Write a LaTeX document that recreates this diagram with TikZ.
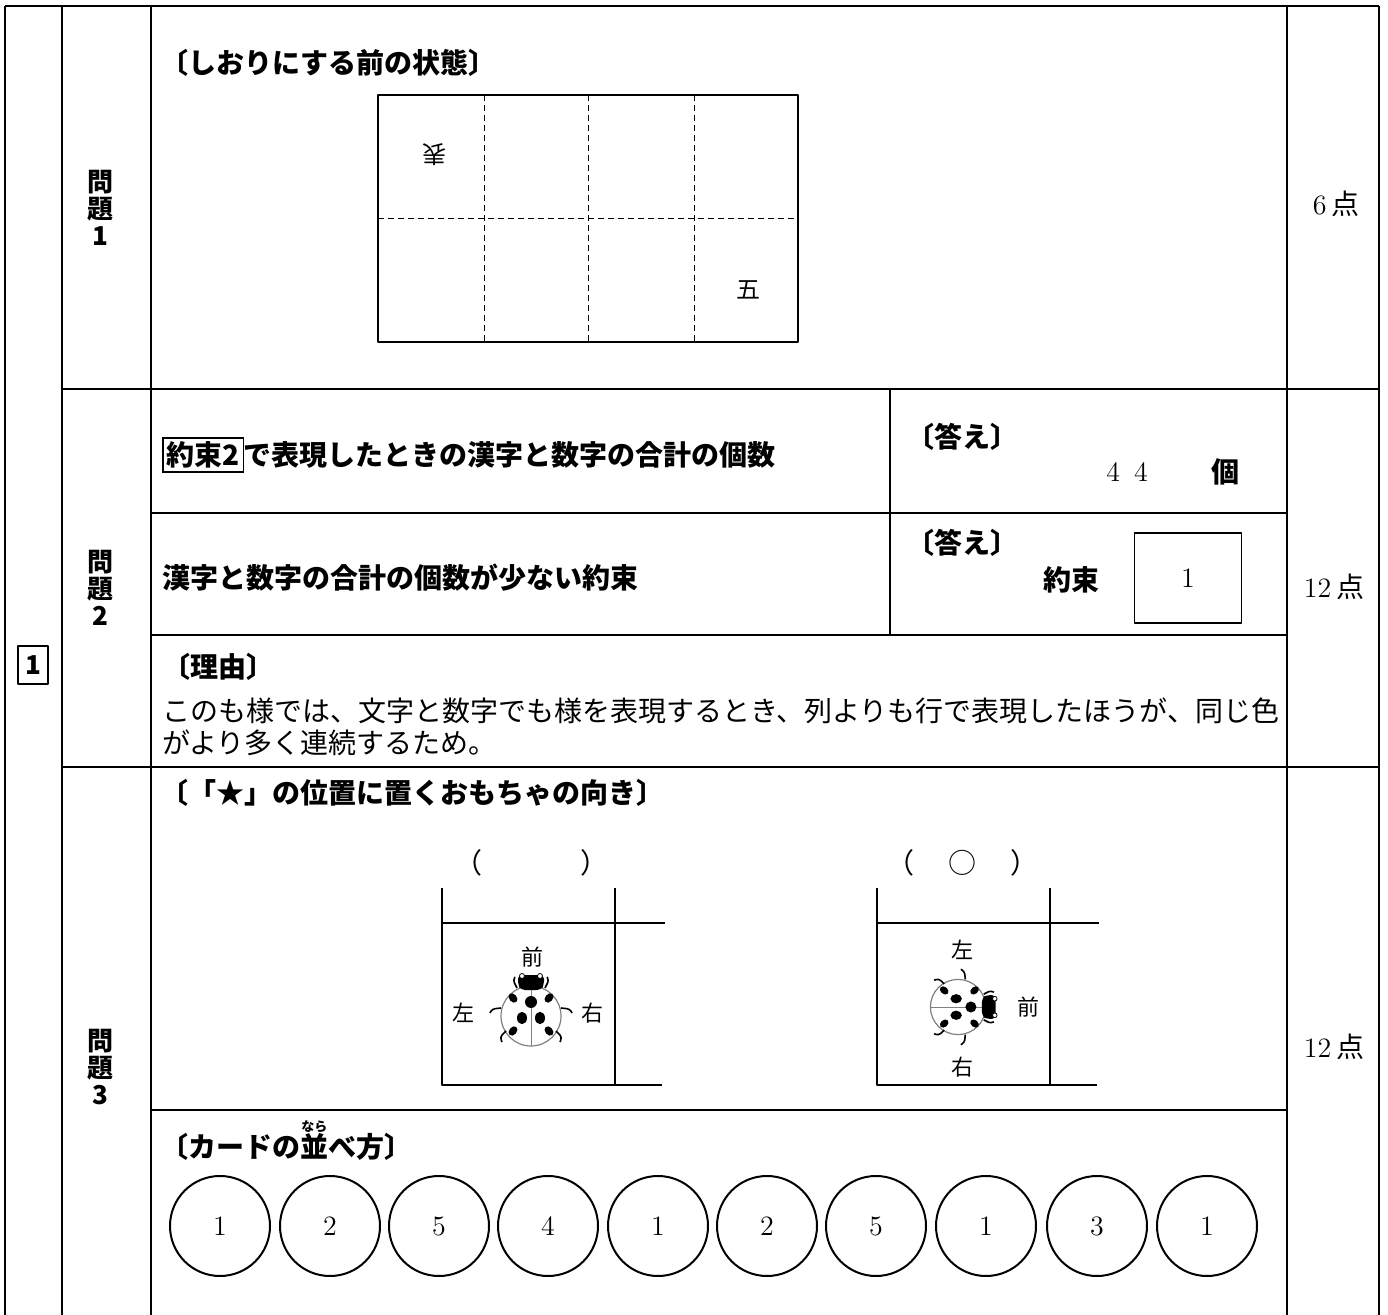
\documentclass[tikz,border=0pt]{standalone}
\usepackage{fontspec}
\newfontfamily\jp{Noto Sans CJK JP}
\usetikzlibrary{positioning}
\setlength{\fboxsep}{1.5pt}
\setlength{\fboxrule}{0.6pt}
\tikzstyle{every node}=[inner sep=0pt]
\tikzstyle{every path}=[line join=round]
\tikzstyle{rule}=[line width=1pt]
\tikzstyle{wall}=[line width=1.3pt]
\tikzstyle{gothic}=[font=\jp\bfseries\fontsize{14}{20}\selectfont]
\tikzstyle{mincho}=[font=\jp\fontsize{14}{16}\selectfont]
\tikzstyle{dir}=[font=\jp\fontsize{11}{13}\selectfont]
\tikzstyle{page}=[font=\jp\fontsize{12}{14}\selectfont]
\tikzstyle{mondai}=[font=\jp\bfseries\fontsize{13}{13.5}\selectfont,align=center]
\tikzstyle{card}=[draw,circle,line width=1pt,minimum size=50pt,font=\fontsize{14}{16}\selectfont]
\newcommand{\furi}[2]{\ooalign{#1\cr\hidewidth\raisebox{0.95em}{\fontsize{6.5}{6.5}\selectfont#2}\hidewidth\cr}}
\tikzset{ladybug/.pic={
  \draw[gray,line width=0.6pt,fill=white] (0,0) circle (30);
  \draw[gray,line width=0.5pt] (0,-29) -- (0,30);
  \fill[rounded corners=2pt] (-10,-26) -- (-13,-31) -- (-13,-41) -- (13,-41) -- (13,-31) -- (10,-26) -- cycle;
  \draw[fill=white,line width=0.4pt] (-9,-40) circle (2.5) (9,-40) circle (2.5);
  \fill (0,-14) circle (6)
    (-18,-18) circle [x radius=3.8,y radius=5.2,rotate=40]
    (18,-18) circle [x radius=3.8,y radius=5.2,rotate=-40]
    (-9,2) circle [x radius=5,y radius=6.2]
    (9,2) circle [x radius=5,y radius=6.2]
    (-18,15) circle [x radius=3.8,y radius=5.2,rotate=-40]
    (18,15) circle [x radius=3.8,y radius=5.2,rotate=40];
  \draw[line width=0.8pt,rounded corners=1.5pt]
    (-14,-28) -- (-18,-36) -- (-16,-39) (14,-28) -- (18,-36) -- (16,-39)
    (-30,-8) -- (-39,-7) -- (-41,-3) (30,-8) -- (39,-7) -- (41,-3)
    (-25,15) -- (-31,21) -- (-29,26) (25,15) -- (31,21) -- (29,26);
}}
\begin{document}
\begin{tikzpicture}[x=0.5pt,y=-0.5pt]
\useasboundingbox (0,0) rectangle (1388,1315);
% table rules
\draw[rule]
  (5,6)--(1379,6)
  (5,6)--(5,1315) (62,6)--(62,1315) (151,6)--(151,1315)
  (1287,6)--(1287,1315) (1379,6)--(1379,1315)
  (62,389)--(1379,389) (62,767)--(1379,767)
  (151,513)--(1287,513) (151,635)--(1287,635) (151,1110)--(1287,1110)
  (890,389)--(890,635);
\node[draw,line width=0.8pt,minimum width=15pt,minimum height=19pt,font=\jp\bfseries\fontsize{13}{13}\selectfont] (sec) at (33,665) {1};
\node[mondai] (q1) at (100,208) {問\\題\\1};
\node[mondai] (q2) at (100,588) {問\\題\\2};
\node[mondai] (q3) at (100,1067) {問\\題\\3};
\node[mincho] (pt1) at (1336,204) {{\rmfamily 6}\,点};
\node[mincho] (pt2) at (1334,587) {{\rmfamily 12}\,点};
\node[mincho] (pt3) at (1334,1047) {{\rmfamily 12}\,点};
% mondai 1
\node[gothic,anchor=west] (shiori) at (160,63) {〔しおりにする前の状態〕};
\draw[line width=0.6pt] (378,95) rectangle (798,342);
\draw[line width=0.5pt,dash pattern=on 3pt off 2pt]
  (484,95)--(484,342) (588,95)--(588,342) (694,95)--(694,342) (378,219)--(798,219);
\node[page,rotate=180] (omote) at (434,155) {表};
\node[page] (go) at (748,290) {五};
% mondai 2
\node[gothic,anchor=west] (kosu) at (162,455) {\fbox{約束2}で表現したときの漢字と数字の合計の個数};
\node[gothic,anchor=west] (kotae1) at (906,437) {〔答え〕};
\node[mincho] (n44) at (1127,472) {\rmfamily 4\hspace{7pt}4};
\node[gothic] (ko) at (1225,472) {個};
\node[gothic,anchor=west] (sukunai) at (162,578) {漢字と数字の合計の個数が少ない約束};
\node[gothic,anchor=west] (kotae2) at (906,543) {〔答え〕};
\node[gothic] (yakusoku) at (1071,580) {約束};
\node[draw,line width=0.6pt,minimum width=53.5pt,minimum height=45pt,font=\fontsize{14}{16}\selectfont] (ans) at (1188,578) {1};
\node[gothic,anchor=west] (riyu) at (162,667) {〔理由〕};
\node[mincho,anchor=west,align=left] (reason) at (162,727)
  {このも様では、文字と数字でも様を表現するとき、列よりも行で表現したほうが、同じ色\\がより多く連続するため。};
% mondai 3
\node[gothic,anchor=west] (muki) at (160,793) {〔「★」の位置に置くおもちゃの向き〕};
\node[mincho] (lpa) at (468,863) {（};
\node[mincho] (rpa) at (594,863) {）};
\node[mincho] (lpb) at (900,863) {（};
\node[mincho] (maru) at (962,863) {○};
\node[mincho] (rpb) at (1024,863) {）};
\draw[wall] (442,888)--(442,1085)--(662,1085) (615,888)--(615,1085) (442,923)--(665,923);
\draw[wall] (877,888)--(877,1085)--(1097,1085) (1050,888)--(1050,1085) (877,923)--(1099,923);
\pic at (531,1016) {ladybug};
\node[dir] (maea) at (532,957) {前};
\node[dir] (hidaria) at (463,1013) {左};
\node[dir] (migia) at (592,1013) {右};
\pic[rotate=-90,scale=0.92] at (958,1007) {ladybug};
\node[dir] (hidarib) at (962,950) {左};
\node[dir] (maeb) at (1028,1007) {前};
\node[dir] (migib) at (962,1067) {右};
\node[gothic,anchor=west] (narabe) at (160,1147) {〔カードの\furi{並}{なら}べ方〕};
\node[card] (c1) at (220,1226) {1};
\node[card] (c2) at (330,1226) {2};
\node[card] (c3) at (439,1226) {5};
\node[card] (c4) at (548,1226) {4};
\node[card] (c5) at (658,1226) {1};
\node[card] (c6) at (767,1226) {2};
\node[card] (c7) at (876,1226) {5};
\node[card] (c8) at (986,1226) {1};
\node[card] (c9) at (1097,1226) {3};
\node[card] (c10) at (1207,1226) {1};
\end{tikzpicture}
\end{document}
